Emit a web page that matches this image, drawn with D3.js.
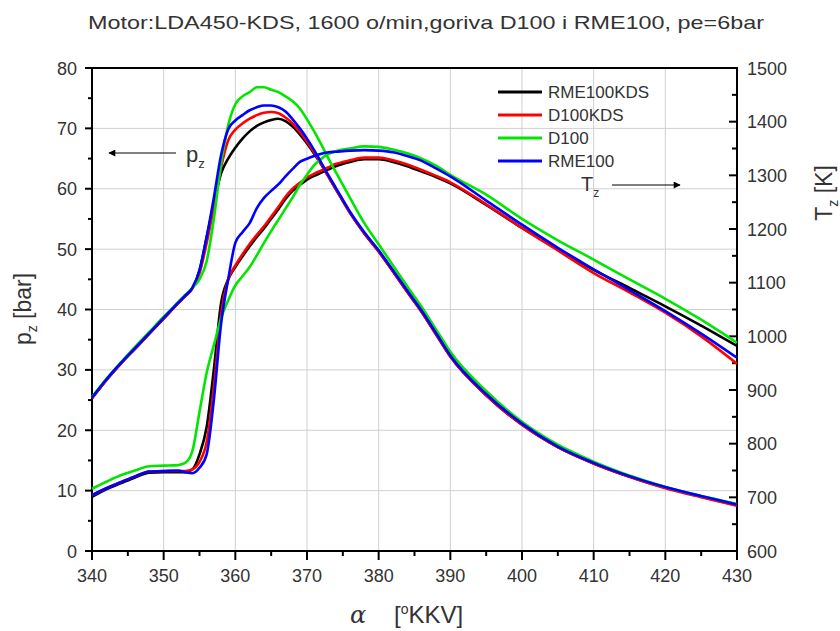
<!DOCTYPE html>
<html>
<head>
<meta charset="utf-8">
<script src="https://cdn.jsdelivr.net/npm/d3@7"></script>
<style>
  body { margin: 0; background: #fff; }
  svg text { font-family: "Liberation Sans", Arial, sans-serif; fill: #333; }
</style>
</head>
<body>
<svg id="chart" width="840" height="631"></svg>
<script>
// crank angle (deg)
const angles = [340, 342, 344, 346, 348, 350, 352, 353, 354, 355, 356, 357, 358, 359, 360,
  361, 362, 363, 364, 365, 366, 367, 368, 369, 370, 371, 372, 373, 374, 376, 378, 380,
  382, 384, 386, 388, 390, 395, 400, 405, 410, 415, 420, 425, 430];

// cylinder pressure p_z [bar]
const pRME100KDS = [25.3, 28.3, 31.0, 33.5, 36.0, 38.5, 41.0, 42.2, 43.5, 46.5, 52.0, 57.5, 62.5, 65.0, 66.8,
  68.3, 69.5, 70.4, 71.0, 71.4, 71.6, 71.2, 70.3, 69.0, 67.5, 65.8, 64.0, 62.0, 60.0, 56.0, 52.6, 49.6,
  46.3, 42.9, 39.6, 35.9, 32.2, 25.8, 20.9, 17.2, 14.5, 12.3, 10.5, 9.0, 7.6];
const pD100KDS = [25.3, 28.3, 31.0, 33.5, 36.0, 38.5, 41.0, 42.2, 43.5, 46.0, 51.0, 57.0, 63.5, 68.0, 69.8,
  70.8, 71.6, 72.2, 72.6, 72.7, 72.5, 71.8, 70.8, 69.4, 67.8, 66.0, 64.0, 62.0, 60.0, 56.0, 52.6, 49.6,
  46.3, 42.9, 39.6, 35.9, 32.2, 25.8, 20.9, 17.2, 14.5, 12.3, 10.4, 8.9, 7.5];
const pD100 = [25.5, 28.5, 31.2, 33.8, 36.3, 38.8, 41.2, 42.4, 43.6, 45.0, 48.0, 55.0, 64.0, 70.5, 74.0,
  75.3, 76.0, 76.8, 76.8, 76.4, 76.0, 75.3, 74.5, 73.3, 71.5, 69.5, 67.3, 65.0, 62.8, 58.5, 54.3, 50.8,
  47.3, 43.8, 40.4, 36.7, 33.0, 26.5, 21.4, 17.6, 14.8, 12.5, 10.6, 9.1, 7.8];
const pRME100 = [25.4, 28.4, 31.1, 33.6, 36.1, 38.6, 41.1, 42.3, 43.6, 46.5, 52.0, 58.5, 65.5, 69.8, 71.3,
  72.2, 73.0, 73.5, 73.8, 73.8, 73.5, 72.8, 71.5, 70.0, 68.3, 66.4, 64.3, 62.2, 60.2, 56.2, 52.8, 49.8,
  46.5, 43.1, 39.8, 36.1, 32.4, 26.0, 21.1, 17.3, 14.6, 12.4, 10.6, 9.1, 7.7];

// gas temperature T_z [K]
const tRME100KDS = [701, 715, 726, 737, 746, 747, 747, 747, 752, 780, 831, 938, 1061, 1106, 1129,
  1149, 1168, 1185, 1201, 1219, 1237, 1256, 1271, 1282, 1292, 1299, 1305, 1311, 1317, 1325, 1330, 1330,
  1325, 1317, 1307, 1297, 1285, 1245, 1202, 1162, 1124, 1090, 1056, 1020, 982];
const tD100KDS = [704, 717, 728, 739, 748, 749, 749, 749, 752, 766, 803, 904, 1039, 1106, 1132,
  1153, 1172, 1189, 1205, 1223, 1241, 1260, 1275, 1286, 1296, 1303, 1309, 1315, 1321, 1328, 1333, 1333,
  1328, 1320, 1310, 1299, 1287, 1246, 1202, 1160, 1118, 1082, 1044, 1000, 949];
const tD100 = [716, 729, 741, 750, 758, 759, 760, 764, 786, 859, 932, 983, 1033, 1067, 1095,
  1112, 1129, 1151, 1174, 1196, 1217, 1238, 1259, 1282, 1301, 1319, 1331, 1340, 1345, 1350, 1354, 1353,
  1348, 1341, 1331, 1318, 1301, 1264, 1219, 1179, 1143, 1106, 1070, 1031, 988];
const tRME100 = [704, 717, 728, 739, 748, 749, 750, 747, 745, 755, 780, 881, 1022, 1106, 1174,
  1194, 1211, 1239, 1258, 1271, 1283, 1298, 1312, 1325, 1331, 1336, 1340, 1343, 1344, 1346, 1347, 1346,
  1343, 1336, 1327, 1313, 1298, 1253, 1208, 1165, 1125, 1086, 1047, 1005, 960];

const seriesNames = ['RME100KDS', 'D100KDS', 'D100', 'RME100'];
const seriesColors = ['#000000', '#ff0000', '#00e600', '#0000ff'];
const pressure = [pRME100KDS, pD100KDS, pD100, pRME100];
const temperature = [tRME100KDS, tD100KDS, tD100, tRME100];

const xMajor = d3.range(340, 431, 10);
const xMinor = d3.range(345, 430, 10);
const pMajor = d3.range(0, 81, 10);
const pMinor = d3.range(5, 80, 10);
const tMajor = d3.range(600, 1501, 100);
const tMinor = d3.range(650, 1500, 100);

const svg = d3.select('#chart');
const plotL = 92, plotR = 737, plotT = 68, plotB = 551;

const x = d3.scaleLinear().domain([340, 430]).range([plotL, plotR]);
const yP = d3.scaleLinear().domain([0, 80]).range([plotB, plotT]);
const yT = d3.scaleLinear().domain([600, 1500]).range([plotB, plotT]);

// title
svg.append('text')
  .attr('x', 426).attr('y', 29)
  .attr('text-anchor', 'middle')
  .attr('font-size', 19)
  .attr('textLength', 676).attr('lengthAdjust', 'spacingAndGlyphs')
  .text('Motor:LDA450-KDS, 1600 o/min,goriva D100 i RME100, pe=6bar');

// grid
const grid = svg.append('g');
grid.selectAll('.gx').data(xMajor.slice(1, -1)).enter().append('line')
  .attr('x1', d => x(d)).attr('x2', d => x(d)).attr('y1', plotT).attr('y2', plotB)
  .attr('stroke', '#d0d0d0').attr('stroke-width', 1);
grid.selectAll('.gy').data(pMajor.slice(1, -1)).enter().append('line')
  .attr('y1', d => yP(d)).attr('y2', d => yP(d)).attr('x1', plotL).attr('x2', plotR)
  .attr('stroke', '#d0d0d0').attr('stroke-width', 1);

// ticks
function tickLines(cls, data, fn) {
  svg.selectAll('line.' + cls).data(data).enter().append('line')
    .attr('class', cls)
    .each(function(d) {
      const c = fn(d);
      d3.select(this).attr('x1', c[0]).attr('y1', c[1]).attr('x2', c[2]).attr('y2', c[3]);
    })
    .attr('stroke', '#000').attr('stroke-width', 2);
}
tickLines('xt', xMajor, d => [x(d), plotB, x(d), plotB + 9]);
tickLines('xm', xMinor, d => [x(d), plotB, x(d), plotB + 5]);
tickLines('pt', pMajor, d => [plotL - 7, yP(d), plotL, yP(d)]);
tickLines('pm', pMinor, d => [plotL - 4, yP(d), plotL, yP(d)]);
tickLines('tt', tMajor, d => [plotR - 8, yT(d), plotR, yT(d)]);
tickLines('tm', tMinor, d => [plotR - 5, yT(d), plotR, yT(d)]);

// tick labels
const labels = svg.append('g').attr('font-size', 18);
labels.selectAll('.xl').data(xMajor).enter().append('text')
  .attr('x', d => x(d)).attr('y', plotB + 31).attr('text-anchor', 'middle').text(d => d);
labels.selectAll('.pl').data(pMajor).enter().append('text')
  .attr('x', plotL - 15).attr('y', d => yP(d) + 6.5).attr('text-anchor', 'end').text(d => d);
labels.selectAll('.tl').data(tMajor).enter().append('text')
  .attr('x', plotR + 10).attr('y', d => yT(d) + 6.5).attr('text-anchor', 'start').text(d => d);

// frame
svg.append('rect')
  .attr('x', plotL).attr('y', plotT).attr('width', plotR - plotL).attr('height', plotB - plotT)
  .attr('fill', 'none').attr('stroke', '#000').attr('stroke-width', 2);

// curves
const plot = svg.append('g');
const lineP = d3.line().x((d, i) => x(angles[i])).y(d => yP(d)).curve(d3.curveMonotoneX);
const lineT = d3.line().x((d, i) => x(angles[i])).y(d => yT(d)).curve(d3.curveMonotoneX);

seriesNames.forEach((name, k) => {
  plot.append('path').datum(temperature[k])
    .attr('d', lineT).attr('fill', 'none')
    .attr('stroke', seriesColors[k]).attr('stroke-width', 2.6).attr('stroke-linejoin', 'round');
  plot.append('path').datum(pressure[k])
    .attr('d', lineP).attr('fill', 'none')
    .attr('stroke', seriesColors[k]).attr('stroke-width', 2.6).attr('stroke-linejoin', 'round');
});

// legend
const legend = svg.append('g');
seriesNames.forEach((name, k) => {
  const ly = 92 + k * 23;
  legend.append('line').attr('x1', 498).attr('x2', 542).attr('y1', ly).attr('y2', ly)
    .attr('stroke', seriesColors[k]).attr('stroke-width', 3);
  legend.append('text').attr('x', 548).attr('y', ly + 6).attr('font-size', 17).text(name);
});

// arrows with annotations
svg.append('defs').append('marker')
  .attr('id', 'head').attr('viewBox', '0 0 10 10').attr('refX', 9).attr('refY', 5)
  .attr('markerWidth', 9).attr('markerHeight', 7).attr('orient', 'auto')
  .attr('markerUnits', 'userSpaceOnUse')
  .append('path').attr('d', 'M0,0L10,5L0,10z').attr('fill', '#000');

svg.append('line').attr('x1', 176).attr('x2', 109).attr('y1', 153).attr('y2', 153)
  .attr('stroke', '#000').attr('stroke-width', 1).attr('marker-end', 'url(#head)');
const pz = svg.append('text').attr('x', 186).attr('y', 162).attr('font-size', 22);
pz.append('tspan').text('p');
pz.append('tspan').attr('font-size', 13).attr('dy', 6).text('z');

svg.append('line').attr('x1', 612).attr('x2', 680).attr('y1', 185).attr('y2', 185)
  .attr('stroke', '#000').attr('stroke-width', 1).attr('marker-end', 'url(#head)');
const tz = svg.append('text').attr('x', 581).attr('y', 191).attr('font-size', 20);
tz.append('tspan').text('T');
tz.append('tspan').attr('font-size', 12).attr('dy', 6).text('z');

// axis titles
const xl = svg.append('text').attr('y', 623).attr('font-size', 24);
xl.append('tspan').attr('x', 350).attr('font-style', 'italic').attr('font-family', '"DejaVu Serif", serif').text('α');
xl.append('tspan').attr('x', 394).text('[');
xl.append('tspan').attr('font-size', 14).attr('dy', -9).text('o');
xl.append('tspan').attr('dy', 9).text('KKV]');

const yl = svg.append('text').attr('transform', 'translate(31,309) rotate(-90)')
  .attr('text-anchor', 'middle').attr('font-size', 23);
yl.append('tspan').text('p');
yl.append('tspan').attr('font-size', 14).attr('dy', 6).text('z');
yl.append('tspan').attr('dy', -6).text(' [bar]');

const yr = svg.append('text').attr('transform', 'translate(832,193) rotate(-90)')
  .attr('text-anchor', 'middle').attr('font-size', 23);
yr.append('tspan').text('T');
yr.append('tspan').attr('font-size', 14).attr('dy', 6).text('z');
yr.append('tspan').attr('dy', -6).text(' [K]');
</script>
</body>
</html>
